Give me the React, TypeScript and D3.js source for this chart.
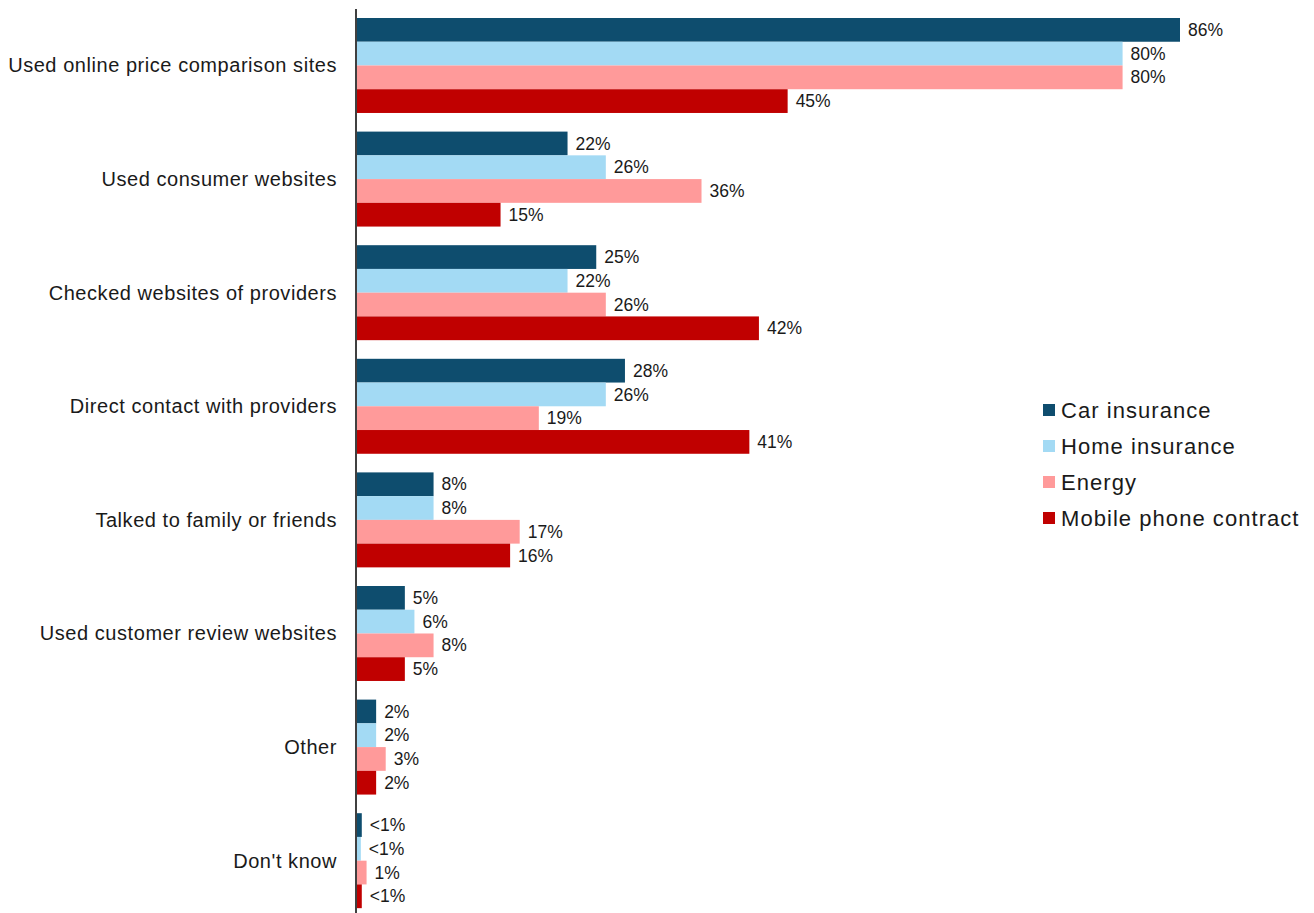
import React, { useEffect, useRef } from 'react';
import * as d3 from 'd3';

const categories = [
  'Used online price comparison sites',
  'Used consumer websites',
  'Checked websites of providers',
  'Direct contact with providers',
  'Talked to family or friends',
  'Used customer review websites',
  'Other',
  "Don't know",
];

const seriesNames = ['Car insurance', 'Home insurance', 'Energy', 'Mobile phone contract'];
const seriesColors = ['#0E4D6E', '#A3DAF4', '#FF9A9A', '#C00000'];

const carInsurance = [86, 22, 25, 28, 8, 5, 2, 0.5];
const homeInsurance = [80, 26, 22, 26, 8, 6, 2, 0.4];
const energy = [80, 36, 26, 19, 17, 8, 3, 1];
const mobileContract = [45, 15, 42, 41, 16, 5, 2, 0.5];

const carLabels = ['86%', '22%', '25%', '28%', '8%', '5%', '2%', '<1%'];
const homeLabels = ['80%', '26%', '22%', '26%', '8%', '6%', '2%', '<1%'];
const energyLabels = ['80%', '36%', '26%', '19%', '17%', '8%', '3%', '1%'];
const mobileLabels = ['45%', '15%', '42%', '41%', '16%', '5%', '2%', '<1%'];

const W = 1314;
const H = 913;
const FONT = '"Liberation Sans", Arial, sans-serif';

export default function App() {
  const svgRef = useRef<SVGSVGElement>(null);

  useEffect(() => {
    if (!svgRef.current) return;
    const svg = d3.select(svgRef.current);
    svg.selectAll('*').remove();

    const values = [carInsurance, homeInsurance, energy, mobileContract];
    const labels = [carLabels, homeLabels, energyLabels, mobileLabels];

    const x0 = 357;
    const x = d3.scaleLinear().domain([0, 86]).range([x0, 1180]);

    const step = 113.6;
    const pad = 0.164;
    const top = 18 - (step * pad) / 2;
    const y = d3.scaleBand<string>()
      .domain(categories)
      .range([top, top + step * categories.length])
      .paddingInner(pad)
      .paddingOuter(pad / 2);

    const ySub = d3.scaleBand<number>()
      .domain(d3.range(seriesNames.length))
      .range([0, y.bandwidth()]);

    // bars + value labels
    categories.forEach((cat, ci) => {
      const g = svg.append('g').attr('transform', `translate(0,${y(cat)})`);
      values.forEach((vals, si) => {
        const v = vals[ci];
        g.append('rect')
          .attr('x', x0)
          .attr('y', ySub(si)!)
          .attr('width', x(v) - x0)
          .attr('height', ySub.bandwidth())
          .attr('fill', seriesColors[si]);
        g.append('text')
          .attr('x', x(v) + 8)
          .attr('y', ySub(si)! + ySub.bandwidth() / 2)
          .attr('dy', '0.35em')
          .attr('font-family', FONT)
          .attr('font-size', 17.5)
          .attr('fill', '#1a1a1a')
          .text(labels[si][ci]);
      });
    });

    // category labels
    svg.append('g')
      .selectAll('text')
      .data(categories)
      .join('text')
      .attr('x', 337)
      .attr('y', d => y(d)! + y.bandwidth() / 2)
      .attr('dy', '0.35em')
      .attr('text-anchor', 'end')
      .attr('font-family', FONT)
      .attr('font-size', 20)
      .attr('letter-spacing', 0.55)
      .attr('fill', '#1a1a1a')
      .text(d => d);

    // axis line
    svg.append('line')
      .attr('x1', 356).attr('x2', 356)
      .attr('y1', 9).attr('y2', H)
      .attr('stroke', '#000')
      .attr('stroke-width', 1.5);

    // legend
    const legend = svg.append('g').attr('transform', 'translate(1043,410)');
    seriesNames.forEach((name, i) => {
      legend.append('rect')
        .attr('x', 0)
        .attr('y', i * 36 - 6)
        .attr('width', 12)
        .attr('height', 12)
        .attr('fill', seriesColors[i]);
      legend.append('text')
        .attr('x', 18)
        .attr('y', i * 36)
        .attr('dy', '0.35em')
        .attr('font-family', FONT)
        .attr('font-size', 22)
        .attr('letter-spacing', 1.05)
        .attr('fill', '#1a1a1a')
        .text(name);
    });
  }, []);

  return (
    <div style={{ position: 'absolute', left: 0, top: 0, background: '#fff' }}>
      <svg ref={svgRef} width={W} height={H} style={{ display: 'block' }} />
    </div>
  );
}
